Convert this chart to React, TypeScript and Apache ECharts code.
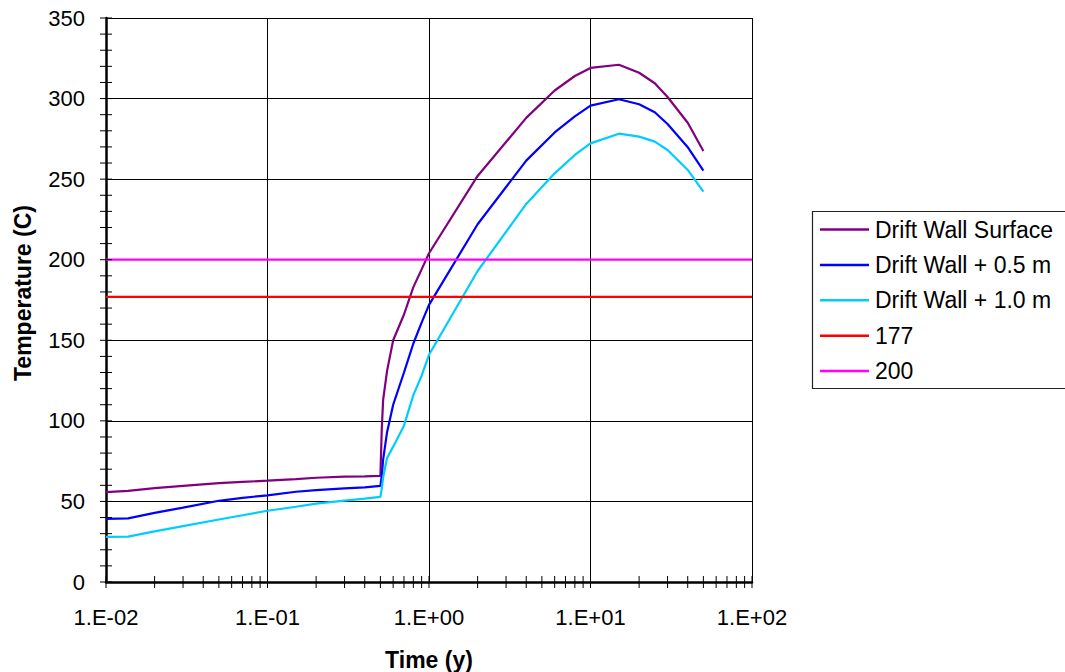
import React, { useEffect, useRef } from "react";
import * as echarts from "echarts";

// Time (years) shared by the three curves
const times = [0.01, 0.0137, 0.02, 0.03, 0.05, 0.07, 0.1, 0.15, 0.2, 0.3, 0.4, 0.5, 0.51, 0.52, 0.55, 0.6, 0.7, 0.8, 0.9, 1, 2, 4, 6, 8, 10, 15, 20, 25, 30, 40, 50];
const driftWallSurface = [55.8, 56.6, 58.2, 59.7, 61.3, 62.1, 62.9, 63.9, 64.7, 65.4, 65.6, 65.8, 95, 113, 131, 150, 166, 183, 194, 204, 252, 288, 305, 314, 319, 321, 316, 309.5, 301, 285, 267.5];
const driftWall05 = [39.2, 39.5, 42.9, 46.2, 50.4, 52.2, 53.8, 56, 57, 58.1, 58.7, 59.6, 66, 76, 93, 110, 130, 148, 161, 172, 222, 261.5, 279, 289, 295.6, 299.6, 296.5, 291.5, 284.2, 269.8, 255.3];
const driftWall10 = [28, 28.2, 31.4, 34.7, 38.8, 41.4, 44.2, 46.7, 48.6, 50.5, 51.7, 52.8, 58, 65, 77, 84, 97, 116, 128, 141, 193, 234.6, 253.6, 265, 272.2, 278.2, 276.4, 273.3, 268.1, 255.7, 242.2];

const thresholdRange = [0.01, 100];
const threshold177 = 177;
const threshold200 = 200;

const seriesNames = ["Drift Wall Surface", "Drift Wall + 0.5 m", "Drift Wall + 1.0 m", "177", "200"];
const xTickLabels = ["1.E-02", "1.E-01", "1.E+00", "1.E+01", "1.E+02"];
const yMin = 0;
const yMax = 350;
const yStep = 50;
const yMinorStep = 10;

const FONT = "'Liberation Sans', Arial, Helvetica, sans-serif";

export default function App() {
  const ref = useRef<HTMLDivElement>(null);

  useEffect(() => {
    document.body.style.margin = "0";
    if (!ref.current) return;
    const chart = echarts.init(ref.current, undefined, { renderer: "svg" });

    const pairs = (vals: number[]) => times.map((t, i) => [t, vals[i]]);

    // tick marks crossing the axes (Excel style)
    const xTicks: number[][] = [];
    for (let e = -2; e <= 1; e++) {
      for (let k = 1; k <= 9; k++) xTicks.push([k * Math.pow(10, e), yMin]);
    }
    xTicks.push([100, yMin]);
    const yTicks: number[][] = [];
    for (let v = yMin; v <= yMax; v += yMinorStep) yTicks.push([thresholdRange[0], v]);

    const lineSeries = (name: string, data: number[][], color: string, width: number) => ({
      type: "line",
      name,
      data,
      symbol: "none",
      showSymbol: false,
      lineStyle: { color, width },
      itemStyle: { color },
      z: 4,
    });

    chart.setOption({
      animation: false,
      textStyle: { fontFamily: FONT },
      grid: { left: 106, right: 313, top: 18, bottom: 90, containLabel: false, outerBoundsMode: "none" },
      legend: {
        orient: "vertical",
        left: 820,
        top: 218,
        padding: 0,
        icon: "rect",
        itemWidth: 49,
        itemHeight: 2.5,
        itemGap: 12.4,
        data: seriesNames,
        textStyle: { fontSize: 23, lineHeight: 23, color: "#000", fontFamily: FONT, padding: [0, 0, 0, 1] },
      },
      graphic: [
        {
          type: "rect",
          shape: { x: 812.5, y: 211.5, width: 260, height: 177 },
          style: { fill: "none", stroke: "#222", lineWidth: 1.2 },
          silent: true,
        },
      ],
      xAxis: {
        type: "log",
        logBase: 10,
        min: thresholdRange[0],
        max: thresholdRange[1],
        splitNumber: 4,
        name: "Time (y)",
        nameLocation: "middle",
        nameGap: 66,
        nameTextStyle: { fontSize: 23, fontWeight: "bold", color: "#000", fontFamily: FONT },
        axisLine: { lineStyle: { color: "#000", width: 2.5 } },
        axisTick: { show: false },
        minorTick: { show: false },
        axisLabel: {
          fontSize: 22,
          color: "#000",
          margin: 24,
          fontFamily: FONT,
          formatter: (v: number) => xTickLabels[Math.round(Math.log10(v)) + 2] ?? "",
        },
        splitLine: { show: true, lineStyle: { color: "#000", width: 1 } },
      },
      yAxis: {
        type: "value",
        min: yMin,
        max: yMax,
        interval: yStep,
        name: "Temperature (C)",
        nameLocation: "middle",
        nameRotate: 90,
        nameGap: 72,
        nameTextStyle: { fontSize: 23, fontWeight: "bold", color: "#000", fontFamily: FONT, padding: [0, 0, 0, 14] },
        axisLine: { lineStyle: { color: "#000", width: 2.5 } },
        axisTick: { show: false },
        axisLabel: { fontSize: 22, color: "#000", margin: 21, fontFamily: FONT },
        splitLine: { show: true, lineStyle: { color: "#000", width: 1 } },
      },
      series: [
        lineSeries(seriesNames[0], pairs(driftWallSurface), "#800080", 2.2),
        lineSeries(seriesNames[1], pairs(driftWall05), "#0000FF", 2.2),
        lineSeries(seriesNames[2], pairs(driftWall10), "#00CCFF", 2.2),
        lineSeries(seriesNames[3], thresholdRange.map((t) => [t, threshold177]), "#FF0000", 2.2),
        lineSeries(seriesNames[4], thresholdRange.map((t) => [t, threshold200]), "#FF00FF", 2.2),
        {
          type: "custom",
          name: "xticks",
          coordinateSystem: "cartesian2d",
          data: xTicks,
          clip: false,
          silent: true,
          z: 5,
          renderItem: (_p: any, api: any) => {
            const pt = api.coord([api.value(0), api.value(1)]);
            return {
              type: "line",
              shape: { x1: pt[0], y1: pt[1] - 6, x2: pt[0], y2: pt[1] + 6 },
              style: { stroke: "#000", lineWidth: 1 },
            };
          },
        },
        {
          type: "custom",
          name: "yticks",
          coordinateSystem: "cartesian2d",
          data: yTicks,
          clip: false,
          silent: true,
          z: 5,
          renderItem: (_p: any, api: any) => {
            const pt = api.coord([api.value(0), api.value(1)]);
            return {
              type: "line",
              shape: { x1: pt[0] - 6, y1: pt[1], x2: pt[0] + 6, y2: pt[1] },
              style: { stroke: "#000", lineWidth: 1 },
            };
          },
        },
      ],
    });

    return () => chart.dispose();
  }, []);

  return <div ref={ref} style={{ width: 1065, height: 672 }} />;
}
